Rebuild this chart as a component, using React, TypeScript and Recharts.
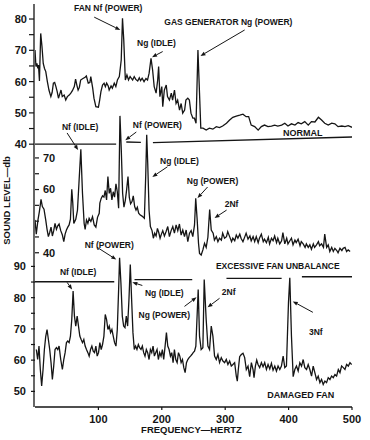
import React from 'react';
import { LineChart, Line, XAxis, YAxis, ReferenceLine, ReferenceDot } from 'recharts';

// ---------- data (frequency in Hz, level in dB) ----------
const normalHz = [0, 1.5, 3, 4.5, 5.5, 7, 9, 11, 13, 15, 17, 19.5, 22, 25, 27, 29, 31, 33, 35, 37, 39.5, 41, 43, 46, 48.5, 51, 54, 56.5, 59, 62, 64, 66, 68, 70, 72, 75, 79, 81, 84, 86.5, 88, 91, 93, 96, 100, 102, 104, 106.5, 109, 111, 113, 115.5, 117, 120, 122, 125, 127.5, 130, 133, 136, 138, 140, 142.5, 145, 147.5, 150, 152, 154, 156.5, 159, 162, 164.5, 166.5, 169, 172, 175, 177.5, 180, 183, 185.5, 188, 191, 193.5, 195, 197, 200, 201.5, 204, 207, 209, 212, 215, 217, 220, 222.5, 225, 228, 230.5, 233, 236, 238, 241, 243.5, 246, 249, 251.5, 254, 257, 259.5, 261.5, 265, 270, 275, 280.5, 286, 291, 296, 302, 307, 312, 317.5, 323, 328, 333, 337, 341, 346.5, 352, 357, 362, 367.5, 373, 378, 383, 389, 394, 399, 404.5, 410, 415, 420, 425.5, 431, 436, 441.5, 447, 452, 457, 462.5, 468, 473, 478, 484, 489, 494, 500];
const normalDb = [70.1, 64.8, 65.8, 64.2, 65.3, 60.2, 75.4, 71.2, 65.8, 64.2, 63.2, 60, 57.3, 55.2, 56.5, 59.5, 59.7, 58.4, 56.8, 54.7, 56.3, 57.3, 55.2, 55.7, 54.1, 55.2, 55.7, 56.3, 57.1, 58.4, 60.8, 58.9, 57.3, 58.2, 60.5, 60.9, 61.4, 61.8, 59.5, 59.7, 61.6, 57.9, 54.7, 52, 51.8, 54.1, 56.8, 58.9, 59.5, 58.4, 59.5, 58.6, 57.3, 58.6, 57.9, 59.5, 58.4, 60.5, 61.6, 66.9, 80.2, 73.3, 60.5, 62.1, 60.5, 61.6, 61, 60.5, 61.6, 60.7, 60.2, 61.2, 60.3, 61.1, 60, 61, 60.5, 62.7, 67.4, 63.7, 58.4, 56.3, 60.5, 64.8, 55.2, 58.4, 52, 57.3, 58.9, 55.2, 54.1, 56.3, 54.1, 57.3, 53, 54.1, 50.9, 53, 49.9, 50.9, 54.1, 54.7, 54.1, 49.9, 48.3, 48.3, 46.7, 70.1, 56.3, 45.1, 45.1, 44.5, 45.1, 44.8, 45.6, 45.3, 45.8, 46.7, 47.7, 48.6, 49, 49.3, 49.6, 48.8, 48.8, 46.1, 45.6, 44.5, 45.6, 46.1, 45.6, 45.8, 46.1, 45.8, 46.1, 46.7, 45.8, 46.5, 46.1, 46.9, 46.5, 47.2, 46.1, 47.2, 47.1, 48.6, 47.7, 46.7, 46.1, 46.7, 46.5, 45.6, 45.8, 45.6, 45.9, 45.4];

const unbalHz = [0, 2, 4.7, 6.9, 9.5, 11.6, 14.2, 16.9, 19, 21.1, 23.2, 25.3, 27.4, 29.5, 31.6, 33.8, 35.9, 38, 40.6, 43.2, 45.4, 47.5, 49.6, 51.7, 53.8, 55.9, 58, 59.6, 61.2, 64.3, 67, 69.6, 72.3, 74.9, 77.5, 79.1, 81.2, 83.4, 85.4, 88.1, 90.7, 93.4, 96, 98.6, 101.3, 102.3, 104.4, 106.5, 108.7, 110.8, 112.9, 115, 117.1, 119.2, 121.3, 123.4, 125.5, 127.7, 129.8, 131.9, 134, 136.1, 138.2, 140.3, 142.4, 144.5, 146.7, 148.7, 150.8, 153, 155, 157.2, 159.3, 161.4, 163.5, 165.6, 168.8, 172.5, 174.6, 176.2, 177.8, 179.9, 182, 184.6, 186.7, 188.8, 191, 193.1, 195.2, 197.3, 199.4, 201.5, 204.1, 206.8, 209.4, 212, 214.7, 217.3, 219.9, 222.6, 225.2, 227.8, 230.5, 233.1, 235.8, 238.4, 241, 243.7, 246.3, 248.9, 251.6, 253.5, 255.8, 257.9, 259.5, 262.1, 264.8, 267.4, 270, 272.7, 275.5, 278, 281, 283, 286, 288.5, 291, 294, 296, 299, 302, 304, 307, 310, 312, 315, 317.5, 320, 323, 325, 328, 331, 333, 336, 339, 341, 344, 346.5, 349, 352, 354, 357, 360, 362, 365, 368, 370, 373, 375.5, 378, 381, 383, 386, 389, 391, 394, 397, 399, 402, 404.5, 407, 410, 412, 415, 418, 420, 423, 426, 428, 431, 433.5, 436, 439, 441, 444, 447, 449, 452, 455, 457, 460, 462.5, 465, 468, 470.5, 473, 476, 478, 481, 484, 486, 489, 491.5, 494, 497];
const unbalDb = [50.4, 45.9, 50.4, 53, 56.9, 54.6, 53.8, 50.4, 47.4, 45.1, 46.4, 48.1, 45.3, 47, 49.3, 47.4, 48.5, 49.1, 47, 45.6, 43.5, 45.9, 47.2, 48.1, 48.8, 50.6, 60.1, 55.7, 49.3, 50.6, 53.5, 63, 72.7, 58.8, 49.3, 47.4, 50.4, 49.3, 50.9, 49.9, 51.4, 48.8, 48.1, 51.2, 52.5, 55.7, 57.2, 58, 57.6, 59.7, 56.7, 64.1, 58.8, 60.4, 56.7, 59.3, 57.6, 61.8, 59.3, 54.1, 83.3, 72.5, 58.8, 54.4, 56.5, 59.9, 64.1, 57.6, 55.5, 56.2, 58, 54.6, 53.5, 54.4, 52.5, 52, 51.6, 50.9, 64.1, 77.3, 68.3, 53.5, 48.3, 47, 44.6, 46.2, 45.3, 47.7, 46.4, 44.6, 45.9, 47, 45.3, 46.7, 48.3, 45.1, 47, 48.3, 46.2, 48.8, 47, 49.1, 45.6, 47.2, 45.1, 47.2, 43.5, 46.2, 47, 45.1, 48.8, 57.2, 50.4, 43, 39.8, 39.3, 40.9, 43, 41.7, 44.9, 53.7, 47.2, 46.2, 44, 45.1, 43.5, 44.6, 44, 46.2, 44.6, 45.1, 46.7, 45.1, 43.5, 44.6, 43.8, 45.6, 44.6, 45.9, 44.6, 43.5, 45.1, 46.2, 44.3, 45.3, 43.8, 45.1, 43.5, 45.1, 43.2, 44.6, 45.9, 43.5, 44.3, 43.2, 44.9, 42.8, 44.6, 43.8, 45.3, 43.2, 44.6, 42.8, 43.8, 46.4, 42.8, 44.6, 42.8, 43.8, 44.6, 42.5, 44, 43.2, 44.3, 42.2, 43.5, 42.8, 41.7, 42.8, 41.7, 42.5, 41.1, 42.8, 41.7, 42.5, 43.5, 42.2, 42.8, 41.7, 45.9, 41.7, 42.5, 40.4, 41.7, 40.4, 41.4, 40.7, 40, 41.4, 40.7, 41.4, 41.7, 40.4, 40.9, 40.4];

const damagedHz = [2.1, 4.2, 6.3, 8.4, 10.5, 12.7, 14.8, 16.9, 19, 21.1, 23.2, 25.3, 27.4, 29.5, 31.6, 33.8, 35.9, 38, 40.6, 43.2, 45.4, 47.5, 49.6, 51.7, 53.8, 55.9, 58, 60.1, 62.2, 64.3, 66.5, 68.6, 70.7, 72.8, 74.9, 77, 79.1, 81.2, 83.4, 85.4, 87.6, 89.7, 91.8, 93.9, 96, 98.1, 100.2, 102.3, 104.4, 106.5, 108.7, 110.8, 112.9, 115, 117.1, 119.2, 121.3, 123.4, 125.5, 127.7, 129.8, 131.9, 133.4, 135.5, 137.7, 139.8, 141.9, 144, 146.1, 148.2, 150.3, 152.4, 154.5, 156.6, 158.7, 160.8, 163, 165, 167.2, 169.3, 171.4, 173.5, 175.6, 177.7, 179.9, 182, 184.1, 186.2, 188.3, 190.4, 192.5, 194.6, 196.7, 198.8, 200.9, 203, 205.2, 207.3, 209.4, 211.5, 213.6, 215.7, 217.8, 219.9, 222, 224.2, 226.3, 228.4, 230.5, 232.6, 234.7, 236.8, 238.9, 241, 243.1, 245.3, 247.4, 249.5, 251.6, 253.7, 257.4, 259.5, 262.1, 264.8, 266.9, 270, 272.7, 275.3, 278, 280.6, 283.2, 285.9, 288.5, 291.1, 293.8, 296.4, 299.1, 301.7, 304.3, 307, 309.6, 312.2, 314.9, 317.5, 319.1, 320.7, 322.8, 325.4, 328.1, 330.7, 333.3, 336, 338.6, 341.3, 343.9, 345.5, 347.6, 349.7, 351.8, 354.4, 357.1, 359.7, 362.3, 365, 367.6, 370.3, 372.9, 375.5, 378.2, 380.8, 383.4, 386.1, 388.7, 391.4, 394, 396.6, 399.8, 401.9, 404.5, 407.2, 409.8, 412.4, 415.1, 417.7, 420.4, 423, 425.6, 428.3, 430.9, 433.5, 436.2, 438.8, 441.4, 444.1, 446.7, 449.4, 452, 454.6, 457.3, 459.9, 462.5, 465.2, 467.8, 470.5, 473.1, 475.7, 478.4, 481, 483.6, 486.3, 488.9, 491.5, 494.2, 496.8, 499.4];
const damagedDb = [63.4, 60.2, 64.5, 57, 51.7, 57, 63.4, 67.5, 69.8, 66.6, 63.4, 59.2, 53.8, 58.1, 63.4, 64, 63.4, 64.5, 60.2, 57, 60.2, 62.4, 65.6, 66.1, 65.6, 67.7, 73, 82.1, 74.1, 70.9, 74.1, 70.9, 67.7, 66.6, 65.6, 66.6, 64.5, 63.4, 62.4, 61.3, 63.4, 64.5, 62.9, 62.4, 64.5, 61.3, 62.4, 65.6, 63.4, 65, 67.7, 74.6, 73, 69.8, 70.9, 68.8, 69.8, 67.7, 65.6, 64.5, 69.8, 82.6, 92.8, 84.8, 74.1, 70.9, 70.4, 74.1, 70.9, 79.4, 90.6, 79.4, 68.8, 63.4, 64.5, 63.4, 65, 64, 63.4, 64.5, 62.4, 61.3, 63.4, 62.4, 60.2, 63.4, 62.4, 64.5, 61.3, 62.4, 63.4, 60.2, 62.4, 61.3, 63.4, 60.2, 64.5, 68.8, 64.5, 63.4, 61.3, 62.4, 59.2, 63.4, 60.2, 59.2, 62.4, 61.3, 59.2, 60.2, 57.6, 56, 59.2, 60.2, 60.8, 61.3, 61.8, 62.4, 62.9, 64.5, 82.6, 67.7, 63.4, 64, 85.8, 73, 64.5, 63.4, 70.9, 67.7, 61.3, 60.2, 61.8, 59.2, 60.8, 59.7, 59.2, 60.2, 58.6, 59.7, 58.1, 58.6, 59.2, 54.9, 53.3, 57, 61.1, 61.8, 62.2, 60.8, 57, 58.1, 54.7, 59.2, 57, 54.4, 58.1, 60, 58.6, 57.6, 59.2, 57.9, 59.2, 57, 58.6, 57.2, 59, 56.8, 58.1, 56.5, 58.1, 57, 58.1, 61.3, 57.6, 58.1, 78.4, 86.4, 67.7, 54.7, 57, 58.1, 56.5, 59.2, 58.1, 60.2, 57.6, 57, 58.6, 57, 54.9, 58.1, 56, 53.8, 54.9, 52.8, 53.8, 52.2, 53.3, 52.8, 54.4, 53.8, 54.9, 54.4, 55.4, 54.9, 57, 56, 58.1, 57.6, 57, 58.6, 58.1, 59.2, 58.6];

const xTicks = [100, 200, 300, 400, 500];
const topTicks = [40, 45, 50, 55, 60, 65, 70, 75, 80];
const topLabels = [40, 50, 60, 70, 80];
const midTicks = [40, 45, 50, 55, 60, 65, 70];
const midLabels = [40, 60, 70];
const botTicks = [50, 55, 60, 65, 70, 75, 80, 85, 90];
const botLabels = [50, 60, 70, 80, 90];

// annotation text: [axis, hz, dB, text, size]
const texts: [string, number, number, string, number][] = [
  ['top', 115.5, 83.5, 'FAN Nf (POWER)', 8.5],
  ['top', 305, 79.0, 'GAS GENERATOR Ng (POWER)', 8.5],
  ['top', 191.5, 72.3, 'Ng (IDLE)', 8.5],
  ['top', 422.5, 43.6, 'NORMAL', 9],
  ['mid', 71.2, 79.8, 'Nf (IDLE)', 8.5],
  ['mid', 193, 80.4, 'Nf (POWER)', 8.5],
  ['mid', 227.8, 69.1, 'Ng (IDLE)', 8.5],
  ['mid', 280, 62.7, 'Ng (POWER)', 8.5],
  ['mid', 310, 55.4, '2Nf', 8.5],
  ['bot', 383, 90.0, 'EXCESSIVE FAN UNBALANCE', 8.5],
  ['bot', 117.1, 96.7, 'Nf (POWER)', 8.5],
  ['bot', 68, 88.1, 'Nf (IDLE)', 8.5],
  ['bot', 204, 81.4, 'Ng (IDLE)', 8.5],
  ['bot', 204, 74.6, 'Ng (POWER)', 8.5],
  ['bot', 305.4, 81.7, '2Nf', 8.5],
  ['bot', 443, 68.9, '3Nf', 8.5],
  ['bot', 419.3, 49.0, 'DAMAGED FAN', 9],
];

// arrows: [axis, hz1, dB1, hz2, dB2] (head at second point)
const arrows: [string, number, number, number, number][] = [
  ['top', 93.4, 80.6, 134.5, 76.5],
  ['top', 330.7, 76.5, 261, 68.2],
  ['top', 201.4, 69.6, 184.6, 67.8],
  ['mid', 50.6, 77.9, 68, 72.5],
  ['mid', 159.8, 78.2, 142.4, 75.6],
  ['mid', 208.9, 67.2, 185.1, 64.0],
  ['mid', 272.2, 60.8, 256.3, 57.3],
  ['mid', 302.2, 53.5, 283.2, 51.0],
  ['bot', 98.1, 96.1, 128.2, 92.2],
  ['bot', 50.6, 84.9, 58.5, 82.6],
  ['bot', 169.3, 83.9, 153.5, 84.9],
  ['bot', 235.8, 77.2, 254.7, 80.1],
  ['bot', 291.1, 79.8, 272.2, 76.9],
  ['bot', 438.3, 75.3, 406.6, 78.8],
];

// baseline rules: [axis, hz1, dB1, hz2, dB2]
const rules: [string, number, number, number, number][] = [
  ['top', 0, 40, 128, 40],
  ['top', 144, 40.7, 167, 40.6],
  ['top', 186, 40.5, 500, 42.3],
  ['bot', 0, 85.1, 125, 85.1],
  ['bot', 157, 85.8, 248, 85.8],
  ['bot', 302, 86.2, 389, 86.2],
  ['bot', 421, 86.7, 500, 86.7],
];

const toPts = (hz: number[], db: number[]) => hz.map((h, i) => ({ hz: h, db: db[i] }));
const normal = toPts(normalHz, normalDb);
const unbal = toPts(unbalHz, unbalDb);
const damaged = toPts(damagedHz, damagedDb);

const INK = '#151515';
const FONT = '"Liberation Sans", Arial, Helvetica, sans-serif';

const ArrowShape = (p: any) => {
  const x1 = Number(p.x1), y1 = Number(p.y1), x2 = Number(p.x2), y2 = Number(p.y2);
  const dx = x2 - x1, dy = y2 - y1;
  const len = Math.hypot(dx, dy) || 1;
  const ux = dx / len, uy = dy / len;
  const hl = 5, hw = 2;
  const bx = x2 - ux * hl, by = y2 - uy * hl;
  const pts = `${x2},${y2} ${bx - uy * hw},${by + ux * hw} ${bx + uy * hw},${by - ux * hw}`;
  return (
    <g>
      <line x1={x1} y1={y1} x2={bx} y2={by} stroke={INK} strokeWidth={1} />
      <polygon points={pts} fill={INK} />
    </g>
  );
};

const textShape = (label: string, size: number) => (p: any) => (
  <text x={p.cx} y={p.cy} textAnchor="middle" dominantBaseline="central" fontSize={size} fontWeight={700} fontFamily={FONT} fill={INK}>
    {label}
  </text>
);

const tickStyle = { fill: INK, fontSize: 11, fontWeight: 700, fontFamily: FONT };

const fmt = (labels: number[]) => (v: number) => (labels.includes(v) ? String(v) : '');

const YTitle = (props: any) => {
  const vb = props.viewBox || {};
  const cx = (vb.x ?? 36) + (vb.width ?? 0) - 28;
  const cy = (vb.y ?? 4) + (vb.height ?? 403) / 2 - 5;
  return (
    <text x={cx} y={cy} transform={`rotate(-90 ${cx} ${cy})`} textAnchor="middle" dominantBaseline="central" fontSize={9.5} fontWeight={700} fontFamily={FONT} fill={INK}>
      SOUND LEVEL—db
    </text>
  );
};

const XTitle = (props: any) => {
  const vb = props.viewBox || {};
  const x = (vb.x ?? 36) + (vb.width ?? 316) / 2 - 2;
  const y = (vb.y ?? 407) + 22;
  return (
    <text x={x} y={y} textAnchor="middle" dominantBaseline="central" fontSize={9.5} fontWeight={700} fontFamily={FONT} fill={INK}>
      FREQUENCY—HERTZ
    </text>
  );
};

export default function App() {
  return (
    <div style={{ position: 'absolute', left: 0, top: 0, width: 370, height: 440, background: '#fff' }}>
      <LineChart width={370} height={440} margin={{ top: 4, right: 18, bottom: 3, left: 33 }}>
        <XAxis
          xAxisId="x"
          type="number"
          dataKey="hz"
          domain={[0, 500]}
          ticks={xTicks}
          allowDataOverflow
          height={30}
          tickSize={3}
          tickMargin={5}
          tick={tickStyle}
          stroke={INK}
          axisLine={{ stroke: INK, strokeWidth: 1.3 }}
          tickLine={{ stroke: INK, strokeWidth: 1.2 }}
          label={{ content: XTitle }}
        />
        <YAxis
          yAxisId="top"
          type="number"
          domain={[-44, 84.8]}
          allowDataOverflow
          ticks={topTicks}
          interval={0}
          tickFormatter={fmt(topLabels)}
          width={1}
          tickSize={5}
          tickMargin={2}
          tick={tickStyle}
          stroke={INK}
          axisLine={{ stroke: INK, strokeWidth: 1.3 }}
          tickLine={{ stroke: INK, strokeWidth: 1.2 }}
          label={{ content: YTitle }}
        />
        <YAxis
          yAxisId="mid"
          type="number"
          domain={[-8.8, 118.7]}
          allowDataOverflow
          ticks={midTicks}
          interval={0}
          tickFormatter={fmt(midLabels)}
          width={1}
          mirror
          tickSize={4}
          tickMargin={4}
          tick={tickStyle}
          stroke={INK}
          axisLine={false}
          tickLine={{ stroke: INK, strokeWidth: 1.2 }}
        />
        <YAxis
          yAxisId="bot"
          type="number"
          domain={[45, 174]}
          allowDataOverflow
          ticks={botTicks}
          interval={0}
          tickFormatter={fmt(botLabels)}
          width={1}
          tickSize={4}
          tickMargin={5}
          tick={tickStyle}
          stroke={INK}
          axisLine={false}
          tickLine={{ stroke: INK, strokeWidth: 1.2 }}
        />

        {rules.map(([ax, h1, d1, h2, d2], i) => (
          <ReferenceLine
            key={'r' + i}
            xAxisId="x"
            yAxisId={ax}
            segment={[{ x: h1, y: d1 }, { x: h2, y: d2 }]}
            stroke={INK}
            strokeWidth={1.3}
          />
        ))}

        <Line xAxisId="x" yAxisId="top" data={normal} dataKey="db" type="linear" dot={false} stroke={INK} strokeWidth={1.3} isAnimationActive={false} />
        <Line xAxisId="x" yAxisId="mid" data={unbal} dataKey="db" type="linear" dot={false} stroke={INK} strokeWidth={1.3} isAnimationActive={false} />
        <Line xAxisId="x" yAxisId="bot" data={damaged} dataKey="db" type="linear" dot={false} stroke={INK} strokeWidth={1.3} isAnimationActive={false} />

        {arrows.map(([ax, h1, d1, h2, d2], i) => (
          <ReferenceLine
            key={'a' + i}
            xAxisId="x"
            yAxisId={ax}
            segment={[{ x: h1, y: d1 }, { x: h2, y: d2 }]}
            shape={ArrowShape}
          />
        ))}

        {texts.map(([ax, h, d, label, size], i) => (
          <ReferenceDot key={'t' + i} xAxisId="x" yAxisId={ax} x={h} y={d} r={0} shape={textShape(label, size)} />
        ))}
      </LineChart>
    </div>
  );
}
